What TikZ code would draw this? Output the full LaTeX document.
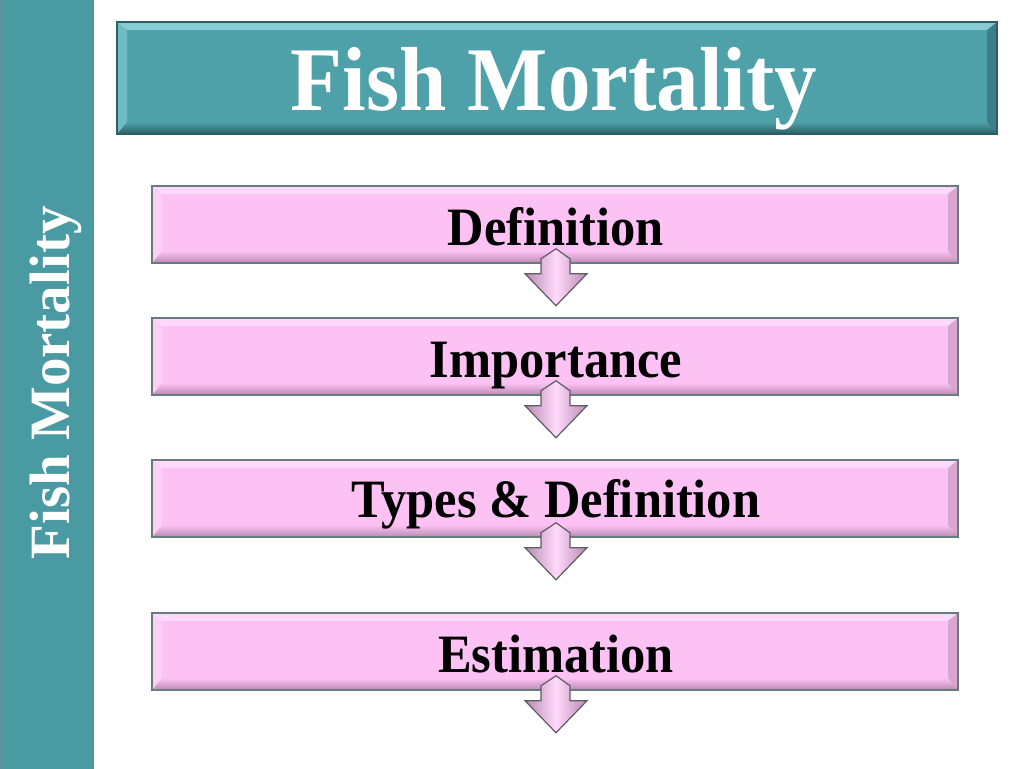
\documentclass[tikz,border=0pt]{standalone}
\usepackage{fontspec}
\setmainfont{Liberation Serif}
\usetikzlibrary{calc}
\definecolor{barteal}{HTML}{4A9AA3}
\definecolor{titleteal}{HTML}{4FA1A9}
\definecolor{tealdark}{HTML}{2C5E63}
\definecolor{teallight}{HTML}{86CCD3}
\definecolor{pinkfill}{HTML}{FCC2F3}
\definecolor{pinklight}{HTML}{FFD9FB}
\definecolor{pinkshade}{HTML}{B98AB1}
\definecolor{boxedge}{HTML}{667C7D}
\definecolor{arrowedge}{HTML}{5E5E64}
\tikzset{
  x=1pt, y=-1pt,
  bevel/.style n args={4}{path picture={
    \coordinate (pSW) at (path picture bounding box.south west);
    \coordinate (pNE) at (path picture bounding box.north east);
    \coordinate (pSE) at (path picture bounding box.south east);
    \coordinate (pNW) at (path picture bounding box.north west);
    \shade[top color=#1, bottom color=#2] (pSW) -- (pSE) -- ($(pSE)+(-10,-12)$) -- ($(pSW)+(10,-12)$) -- cycle;
    \fill[#3] (pNW) -- (pNE) -- ($(pNE)+(-10,8)$) -- ($(pNW)+(10,8)$) -- cycle;
    \fill[#3, opacity=0.6] (pNW) -- (pSW) -- ($(pSW)+(10,-12)$) -- ($(pNW)+(10,8)$) -- cycle;
    \fill[#4, opacity=0.5] (pNE) -- (pSE) -- ($(pSE)+(-10,-12)$) -- ($(pNE)+(-10,8)$) -- cycle;
  }},
  pinkbox/.style={draw=boxedge, line width=1.5pt, fill=pinkfill, minimum width=806pt, minimum height=77pt, inner sep=0pt,
    bevel={pinkfill}{pinkshade}{pinklight}{pinkshade}},
  titlebox/.style={draw=tealdark, line width=1.5pt, fill=titleteal, minimum width=880pt, minimum height=112pt, inner sep=0pt,
    bevel={titleteal}{tealdark}{teallight}{tealdark}},
  leftbar/.style={fill=barteal, draw=barteal!60!gray, line width=1pt, minimum width=93pt, minimum height=770pt, inner sep=0pt},
  lbl/.style={anchor=base, yscale=1.07, transform shape, font=\fontsize{50.5}{55}\selectfont\bfseries, text=black, inner sep=0pt},
  titletext/.style={anchor=base, yscale=1.07, transform shape, font=\fontsize{85}{90}\selectfont\bfseries, text=white, inner sep=0pt},
  sidetext/.style={anchor=base, rotate=90, font=\fontsize{57}{60}\selectfont\bfseries, text=white, inner sep=0pt},
  downarrow/.style={draw=arrowedge, line width=1.2pt, line join=miter, left color=pinkshade, right color=pinkshade, middle color=pinklight},
}
\begin{document}
\begin{tikzpicture}
\useasboundingbox (0,0) rectangle (1024,768);
\fill[white] (0,0) rectangle (1024,768);
\node[leftbar] (bar) at (46.5,384) {};
\node[sidetext] (side) at (69,383) {Fish Mortality};
\node[titlebox] (title) at (557,78) {};
\node[titletext] (titlelbl) at ($(title.center)+(-3,32)$) {Fish Mortality};
\node[pinkbox] (b1) at (555,224.5) {};
\node[pinkbox] (b2) at (555,356.5) {};
\node[pinkbox] (b3) at (555,498.5) {};
\node[pinkbox] (b4) at (555,651.5) {};
\node[lbl] (l1) at ($(b1.center)+(1,20.5)$) {Definition};
\node[lbl] (l2) at ($(b2.center)+(1,20.5)$) {Importance};
\node[lbl] (l3) at ($(b3.center)+(1,18.5)$) {Types \& Definition};
\node[lbl] (l4) at ($(b4.center)+(1,20.5)$) {Estimation};
\foreach \b in {b1,b2,b3,b4}{
  \draw[downarrow] ($(\b.south)+(1,-15)$) -- ++(14,10) -- ++(0,15) -- ++(17,0) -- ($(\b.south)+(1,42)$)
     -- ($(\b.south)+(-30,10)$) -- ++(16,0) -- ++(0,-15) -- cycle;
}
\end{tikzpicture}
\end{document}
